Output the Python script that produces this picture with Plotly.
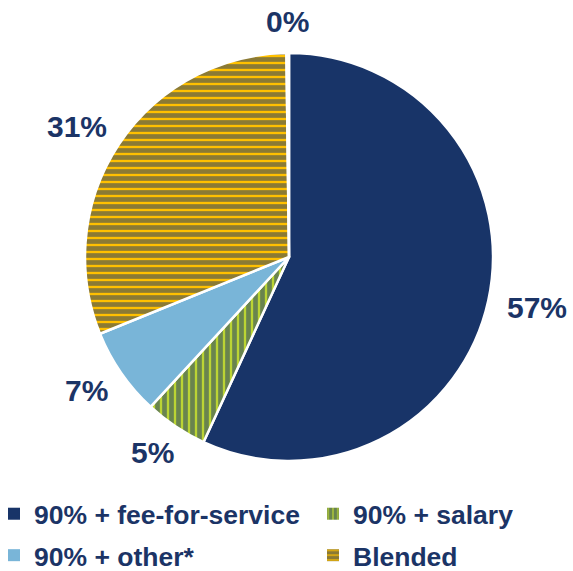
import math
import plotly.graph_objects as go

# Share of practices by payment model (percent)
categories = ["90% + fee-for-service", "90% + salary", "90% + other*", "Blended", "Unreported"]
shares = [57, 5, 7, 31, 0.2]

NAVY = "#183468"
GREEN = "#BBD434"
LIGHT_BLUE = "#79B5D8"
YELLOW = "#FFC000"
TEXT = "#1B3466"
FONT = "Liberation Sans, Arial, sans-serif"

slice_colors = [NAVY, GREEN, LIGHT_BLUE, YELLOW, "#FFFFFF"]
slice_patterns = ["", "|", "", "-", ""]

W, H = 573, 571
cx, cy, r = 289, 257, 204          # pie centre and radius in pixels
LABEL_SIZE = 30
LABEL_GAP = 20

fig = go.Figure()

fig.add_trace(go.Pie(
    labels=categories,
    values=shares,
    sort=False,
    direction="clockwise",
    rotation=0,
    showlegend=False,
    hoverinfo="skip",
    textinfo="none",
    marker=dict(
        colors=slice_colors,
        line=dict(color="white", width=2.5),
        # 7px stripe period with 3px navy lines
        pattern=dict(shape=slice_patterns, fgcolor=NAVY,
                     size=7, solidity=0.6735, fillmode="overlay"),
    ),
    domain=dict(x=[(cx - r) / W, (cx + r) / W],
                y=[1 - (cy + r) / H, 1 - (cy - r) / H]),
))

# Percentage labels just outside each slice, centred on the slice's mid-angle
char_w = {"%": 0.889}
total = sum(shares)
cum = 0.0
for s in shares:
    mid = 2 * math.pi * (cum + s / 2) / total
    cum += s
    txt = f"{round(100 * s / total)}%"
    hw = LABEL_SIZE * sum(char_w.get(c, 0.556) for c in txt) / 2
    hh = LABEL_SIZE * 0.37
    ux, uy = math.sin(mid), -math.cos(mid)
    px = cx + (r + LABEL_GAP) * ux + hw * ux
    py = cy + (r + LABEL_GAP) * uy + hh * uy
    fig.add_annotation(
        x=px / W, y=1 - py / H, xref="paper", yref="paper",
        text=txt, showarrow=False, xanchor="center", yanchor="middle",
        font=dict(family=FONT, size=LABEL_SIZE, color=TEXT, weight="bold"),
    )

# Legend entries (two columns)
legend_cols = ["legend", "legend2", "legend", "legend2"]
for i in range(4):
    fig.add_trace(go.Bar(
        x=[None], y=[None],
        name=categories[i],
        legend=legend_cols[i],
        legendgroup=categories[i],
        marker=dict(
            color=slice_colors[i],
            line=dict(width=0),
            pattern=dict(shape=slice_patterns[i], fgcolor=NAVY,
                         size=6, solidity=0.75, fillmode="overlay"),
        ),
        hoverinfo="skip",
    ))

legend_common = dict(
    orientation="v",
    yanchor="top",
    xanchor="left",
    y=1 - 490 / H,
    font=dict(family=FONT, size=26.5, color=TEXT, weight="bold"),
    bgcolor="rgba(0,0,0,0)",
    tracegroupgap=4,
    traceorder="grouped",
)

fig.update_layout(
    width=W, height=H,
    margin=dict(l=0, r=0, t=0, b=0, autoexpand=False),
    paper_bgcolor="white",
    plot_bgcolor="white",
    xaxis=dict(visible=False),
    yaxis=dict(visible=False),
    legend=dict(x=-6 / W, **legend_common),
    legend2=dict(x=313 / W, **legend_common),
)

fig.write_html("out.html")
